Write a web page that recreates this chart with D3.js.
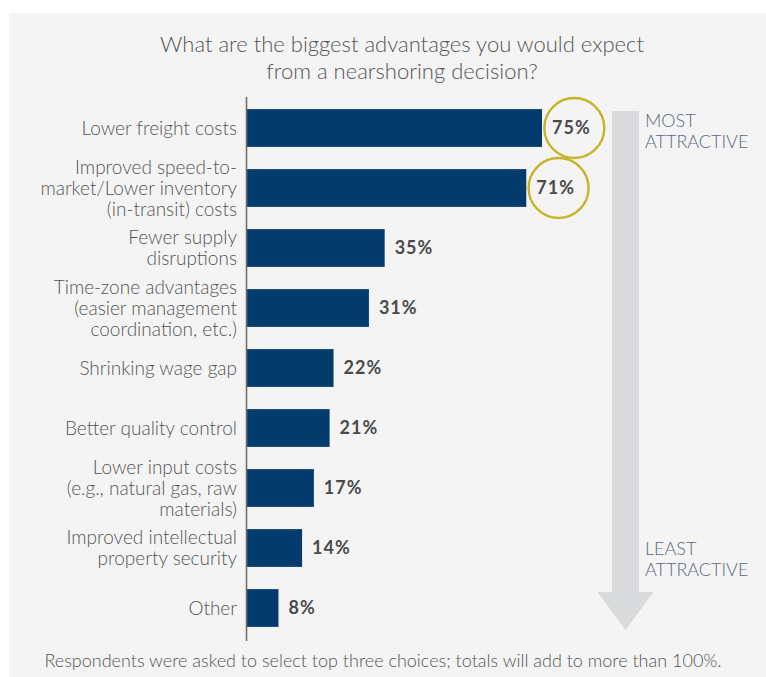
<!DOCTYPE html>
<html>
<head>
<meta charset="utf-8">
<script src="https://cdn.jsdelivr.net/npm/d3@7"></script>
<style>
  html, body { margin: 0; padding: 0; background: #ffffff; }
  svg { display: block; }
</style>
</head>
<body>
<script>
// Survey: expected advantages of nearshoring (share of respondents)
const categories = [
  ["Lower freight costs"],
  ["Improved speed-to-", "market/Lower inventory", "(in-transit) costs"],
  ["Fewer supply", "disruptions"],
  ["Time-zone advantages", "(easier management", "coordination, etc.)"],
  ["Shrinking wage gap"],
  ["Better quality control"],
  ["Lower input costs", "(e.g., natural gas, raw", "materials)"],
  ["Improved intellectual", "property security"],
  ["Other"]
];
const values = [75, 71, 35, 31, 22, 21, 17, 14, 8];
const highlighted = [0, 1];
const titleLines = ["What are the biggest advantages you would expect", "from a nearshoring decision?"];
const rankLabels = { top: ["MOST", "ATTRACTIVE"], bottom: ["LEAST", "ATTRACTIVE"] };
const footnote = "Respondents were asked to select top three choices; totals will add to more than 100%.";

const W = 766, H = 677;
const svg = d3.select("body").append("svg").attr("width", W).attr("height", H);

const textFont = "Lato, 'Open Sans', sans-serif";
const textColor = "#555555";

// panel background
svg.append("rect").attr("x", 9).attr("y", 13).attr("width", W - 9).attr("height", H - 13)
  .attr("fill", "#f4f4f4");

// title
svg.append("text")
  .attr("x", 402).attr("y", 52)
  .attr("text-anchor", "middle")
  .style("font-family", textFont).style("font-size", "22px").style("font-weight", 300)
  .attr("fill", textColor)
  .selectAll("tspan").data(titleLines).join("tspan")
  .attr("x", 402).attr("dy", (d, i) => i === 0 ? 0 : 27)
  .text(d => d);

const idx = values.map((_, i) => i);
const y = d3.scaleBand().domain(idx).range([98, 638]).paddingInner(0.37).paddingOuter(0.185);
const x = d3.scaleLinear().domain([0, 75]).range([247, 542]);

// bars
svg.append("g").selectAll("rect").data(idx).join("rect")
  .attr("x", x(0))
  .attr("y", i => y(i))
  .attr("width", i => x(values[i]) - x(0))
  .attr("height", y.bandwidth())
  .attr("fill", "#033b6d");

// category axis (line only, labels drawn below)
const axis = d3.axisLeft(y).tickSize(0).tickFormat("");
const axisG = svg.append("g").attr("transform", `translate(${x(0) - 0.5},0)`).call(axis);
axisG.select(".domain").attr("stroke", "#6f6f6f").attr("stroke-width", 1.6)
  .attr("d", "M0,97V641");

// category labels, right aligned, vertically centred on the bar
const lineH = 21;
const labelG = svg.append("g");
idx.forEach(i => {
  const lines = categories[i];
  const cy = y(i) + y.bandwidth() / 2;
  const t = labelG.append("text")
    .attr("text-anchor", "end")
    .style("font-family", textFont).style("font-size", "19px").style("font-weight", 300)
    .attr("fill", textColor);
  lines.forEach((ln, k) => {
    t.append("tspan")
      .attr("x", 237)
      .attr("y", cy + (k - (lines.length - 1) / 2) * lineH)
      .attr("dy", "0.35em")
      .text(ln);
  });
});

// value labels
const valG = svg.append("g");
const valTexts = valG.selectAll("text").data(idx).join("text")
  .attr("x", i => x(values[i]) + 10)
  .attr("y", i => y(i) + y.bandwidth() / 2)
  .attr("dy", "0.36em")
  .style("font-family", textFont).style("font-size", "18px").style("font-weight", 700)
  .style("letter-spacing", "1px")
  .attr("fill", "#4a4a4a")
  .text(i => values[i] + "%");

// rings around the top answers
valTexts.filter(i => highlighted.includes(i)).each(function (i) {
  const bb = this.getBBox();
  svg.append("circle")
    .attr("cx", bb.x + bb.width / 2 + 3)
    .attr("cy", y(i) + y.bandwidth() / 2)
    .attr("r", 30)
    .attr("fill", "none")
    .attr("stroke", "#c6b52a")
    .attr("stroke-width", 2.4);
});

// ranking arrow
const ax = 625.5, shaftW = 27, headW = 56;
const arrow = d3.path();
arrow.moveTo(ax - shaftW / 2, 111);
arrow.lineTo(ax + shaftW / 2, 111);
arrow.lineTo(ax + shaftW / 2, 592);
arrow.lineTo(ax + headW / 2, 592);
arrow.lineTo(ax, 630);
arrow.lineTo(ax - headW / 2, 592);
arrow.lineTo(ax - shaftW / 2, 592);
arrow.closePath();
svg.append("path").attr("d", arrow.toString()).attr("fill", "#d9dadc");

function rankText(lines, y0) {
  const t = svg.append("text")
    .style("font-family", textFont).style("font-size", "18px").style("font-weight", 300)
    .attr("fill", "#5d6a7e");
  lines.forEach((ln, k) => {
    t.append("tspan").attr("x", 645).attr("y", y0 + k * 21).text(ln);
  });
}
rankText(rankLabels.top, 127);
rankText(rankLabels.bottom, 555);

// footnote
svg.append("text")
  .attr("x", 383).attr("y", 667)
  .attr("text-anchor", "middle")
  .style("font-family", textFont).style("font-size", "18px").style("font-weight", 300)
  .attr("fill", textColor)
  .text(footnote);
</script>
</body>
</html>
